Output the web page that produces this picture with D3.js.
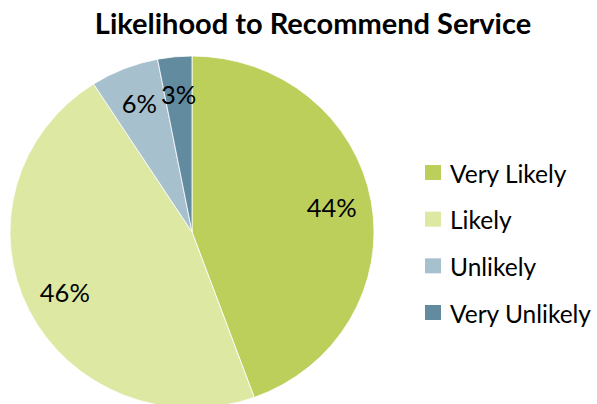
<!DOCTYPE html>
<html>
<head>
<meta charset="utf-8">
<script src="https://cdn.jsdelivr.net/npm/d3@7"></script>
<style>
  html, body { margin: 0; padding: 0; background: #fff; }
  svg { display: block; }
  text { font-family: Lato, "Open Sans", sans-serif; fill: #000; }
</style>
</head>
<body>
<div id="chart"></div>
<script>
const categories = ["Very Likely", "Likely", "Unlikely", "Very Unlikely"];
const percents = [44, 46, 6, 3];
const colors = ["#bccf5a", "#dde8a3", "#a6c0ce", "#638ba0"];

const width = 597, height = 404;
const cx = 192, cy = 232, radius = 182, yScale = 0.967;

const svg = d3.select("#chart").append("svg")
  .attr("width", width).attr("height", height);

svg.append("text")
  .attr("x", 313).attr("y", 34)
  .attr("text-anchor", "middle")
  .style("font-weight", "bold")
  .style("font-size", "29px")
  .text("Likelihood to Recommend Service");

const pie = d3.pie().sort(null).value(d => d);
const arcs = pie(percents);
const arc = d3.arc().innerRadius(0).outerRadius(radius);
const labelArc = d3.arc().innerRadius(radius * 0.78).outerRadius(radius * 0.78);

const g = svg.append("g").attr("transform", `translate(${cx},${cy})`);
g.append("g").attr("transform", `scale(1,${yScale})`)
  .selectAll("path").data(arcs).join("path")
  .attr("d", arc)
  .attr("fill", (d, i) => colors[i])
  .attr("stroke", "#fff")
  .attr("stroke-width", 0.8);

g.selectAll("text.lbl").data(arcs).join("text")
  .attr("class", "lbl")
  .attr("x", d => labelArc.centroid(d)[0])
  .attr("y", d => labelArc.centroid(d)[1] * yScale)
  .attr("dy", "0.35em")
  .attr("text-anchor", "middle")
  .style("font-size", "25.5px")
  .text(d => d.data + "%");

const legend = svg.append("g").attr("transform", "translate(425,0)");
const rowY = d3.scalePoint().domain(categories).range([173, 313]);
const rows = legend.selectAll("g").data(categories).join("g")
  .attr("transform", d => `translate(0,${rowY(d)})`);
rows.append("rect")
  .attr("x", 0).attr("y", -8).attr("width", 16).attr("height", 15)
  .attr("fill", (d, i) => colors[i]);
rows.append("text")
  .attr("x", 25).attr("y", 1).attr("dy", "0.35em")
  .style("font-size", "24.5px")
  .text(d => d);
</script>
</body>
</html>
